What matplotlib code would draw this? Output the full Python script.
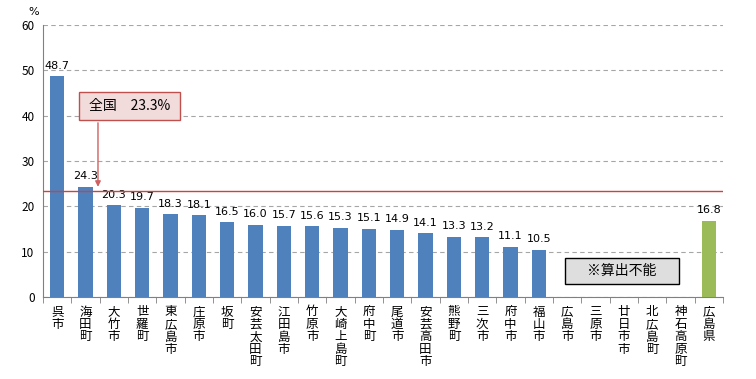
import matplotlib
matplotlib.use("Agg")
import matplotlib.pyplot as plt
from matplotlib.patches import Rectangle
import numpy as np

plt.rcParams['font.family'] = ['Noto Sans CJK JP', 'DejaVu Sans']

names = ['呉市', '海田町', '大竹市', '世羅町', '東広島市', '庄原市', '坂町', '安芸太田町',
         '江田島市', '竹原市', '大崎上島町', '府中町', '尾道市', '安芸高田市', '熊野町',
         '三次市', '府中市', '福山市', '広島市', '三原市', '廿日市市', '北広島町',
         '神石高原町', '広島県']
values = [48.7, 24.3, 20.3, 19.7, 18.3, 18.1, 16.5, 16.0, 15.7, 15.6, 15.3, 15.1,
          14.9, 14.1, 13.3, 13.2, 11.1, 10.5, None, None, None, None, None, 16.8]
national = 23.3

fig = plt.figure(figsize=(7.56, 3.79), dpi=100)
ax = fig.add_axes([0.0569, 0.216, 0.8995, 0.718])

x = np.arange(len(names))
for i, v in enumerate(values):
    if v is None:
        continue
    c = '#9bbb59' if names[i] == '広島県' else '#4f81bd'
    ax.bar(i, v, width=0.5, color=c, zorder=3)
    ax.text(i, v + 1.2, f'{v:.1f}', ha='center', va='bottom', fontsize=8,
            family='DejaVu Sans', zorder=4)

ax.set_xlim(-0.5, len(names) - 0.5)
ax.set_ylim(0, 60)
ax.set_yticks(range(0, 61, 10))
ax.tick_params(axis='y', length=0, labelsize=8.5, pad=6)
ax.yaxis.grid(True, linestyle=(0, (4, 3)), color='#a6a6a6', linewidth=0.8, zorder=0)

ax.set_xticks(x)
ax.set_xticklabels(['\n'.join(n) for n in names], fontsize=9, va='top', linespacing=0.95)
ax.tick_params(axis='x', which='major', length=0, pad=6)
ax.set_xticks(np.arange(-0.5, len(names), 1), minor=True)
ax.tick_params(axis='x', which='minor', length=4, color='#808080', direction='out')

for s in ['top', 'right']:
    ax.spines[s].set_visible(False)
for s in ['left', 'bottom']:
    ax.spines[s].set_color('#808080')

ax.axhline(national, color='#d04040', linewidth=1, zorder=5)

# 全国 callout
ax.add_patch(Rectangle((0.77, 39.05), 3.57, 6.15, facecolor='#f2dcdb',
                       edgecolor='#c0504d', lw=1, zorder=7))
ax.text(2.55, 42.1, f'全国　{national}%', ha='center', va='center', fontsize=10, zorder=8)
ax.annotate('', xy=(1.44, national + 0.4), xytext=(1.44, 39.05),
            arrowprops=dict(arrowstyle='-|>', color='#d06060', lw=1, mutation_scale=8),
            zorder=6)

# 算出不能 box
ax.add_patch(Rectangle((17.93, 2.87), 4.02, 5.74, facecolor='#dedede',
                       edgecolor='black', lw=1, zorder=7))
ax.text(19.94, 5.75, '※算出不能', ha='center', va='center', fontsize=10, zorder=8)

fig.text(0.044, 0.968, '%', fontsize=8, ha='center', va='center', family='DejaVu Sans')

fig.savefig('out.png', dpi=100)
